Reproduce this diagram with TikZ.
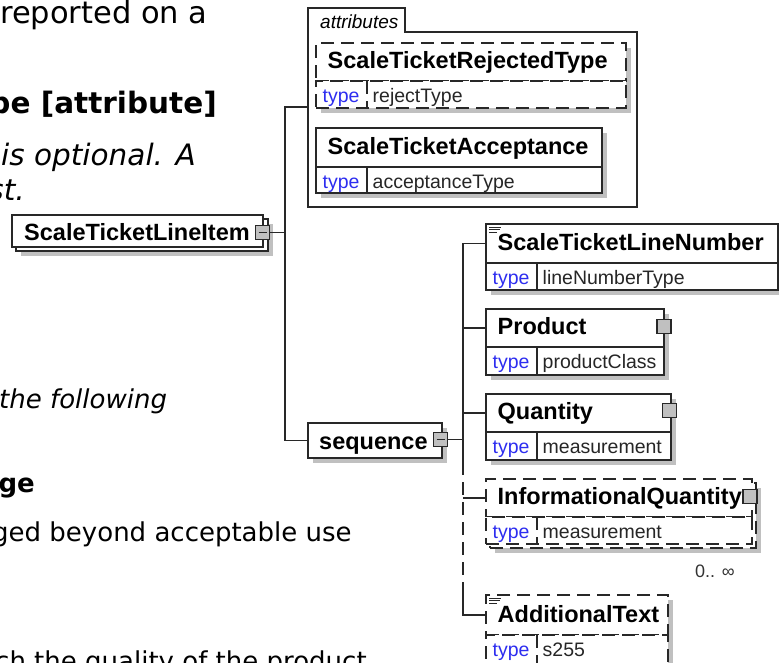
\documentclass[tikz,border=0pt]{standalone}
\usepackage{fontspec}
\newfontfamily\dv{DejaVu Sans}
\newfontfamily\ar{Liberation Sans}
\usetikzlibrary{calc}
\definecolor{shade}{RGB}{192,192,192}
\definecolor{frm}{RGB}{40,40,40}
\definecolor{typeblue}{RGB}{45,45,240}
\definecolor{expfill}{RGB}{192,192,192}
\newcommand\xelem[9]{%
  \node[frame,#9,anchor=north west,minimum width={#4pt-#2pt},minimum height={#5pt-#3pt}] (#1) at (#2,#3) {};
  \node[frame,#9,anchor=north west,minimum width={#4pt-#2pt},minimum height={#6pt-#5pt}] (#1t) at (#2,#5) {};
  \draw[conn,#9] (#2+51,#5) -- (#2+51,#6);
  \node[title,anchor=base west] (#1n) at (#2+11.5,#5-12.5) {#7};
  \node[typek,anchor=base west] (#1k) at (#2+6.5,#5+21) {type};
  \node[typev,anchor=base west] (#1v) at (#2+56.5,#5+21) {#8};
}
\begin{document}
\begin{tikzpicture}[x=1pt,y=-1pt,
  frame/.style={draw=frm,line width=1.5pt,fill=white,inner sep=0pt,outer sep=0pt},
  dashbox/.style={dash pattern=on 13pt off 7pt},
  conn/.style={draw=frm,line width=1.5pt},
  shadow/.style={fill=shade},
  title/.style={inner sep=0pt,text=black,font=\ar\bfseries\fontsize{23.5}{28}\selectfont},
  typek/.style={inner sep=0pt,text=typeblue,font=\ar\fontsize{19.5}{23}\selectfont},
  typev/.style={inner sep=0pt,text=black!85,font=\ar\fontsize{19.5}{23}\selectfont},
  bgtext/.style={inner sep=0pt,text=black},
  expander/.style={draw=frm,fill=expfill,line width=1.3pt,minimum size=14pt,inner sep=0pt,outer sep=0pt}]

\clip (0,0) rectangle (779,662);
\fill[white] (0,0) rectangle (779,662);

% background document text
\node[bgtext,font=\dv\fontsize{30.5}{36}\selectfont,anchor=base west] (t1) at (0,23) {reported on a};
\node[bgtext,font=\dv\bfseries\fontsize{29.5}{35}\selectfont,anchor=base east] (t2) at (217,113) {pe [attribute]};
\node[bgtext,font=\dv\itshape\fontsize{29.5}{35}\selectfont,anchor=base west] (t3) at (1,165) {is optional. A};
\node[bgtext,font=\dv\itshape\fontsize{29.5}{35}\selectfont,anchor=base east] (t4) at (25,200) {st.};
\node[bgtext,font=\dv\itshape\fontsize{26}{31}\selectfont,anchor=base west] (t5) at (-1,408) {the following};
\node[bgtext,font=\dv\bfseries\fontsize{26}{31}\selectfont,anchor=base east] (t6) at (35,492) {ge};
\node[bgtext,font=\dv\fontsize{26}{31}\selectfont,anchor=base west] (t7) at (-8,541) {ged beyond acceptable use};
\node[bgtext,font=\dv\fontsize{26}{31}\selectfont,anchor=base west] (t8) at (-5,670) {ch the quality of the product};

% attributes container
\draw[conn,fill=white] (308,207) -- (308,8) -- (405,8) -- (405,32) -- (637,32) -- (637,207) -- cycle;
\node[inner sep=0pt,font=\ar\itshape\fontsize{19}{23}\selectfont,anchor=base west] (attrl) at (320,28) {attributes};

\fill[shadow] (321,48) rectangle (631,113);
\xelem{rej}{316}{43}{626}{81}{108}{ScaleTicketRejectedType}{rejectType}{dashbox}
\fill[shadow] (321,133) rectangle (607,198);
\xelem{acc}{316}{128}{602}{167}{193}{ScaleTicketAcceptance}{acceptanceType}{}

% root element (stacked)
\fill[shadow] (21,224) rectangle (273,256);
\node[frame,anchor=north west,minimum width=252pt,minimum height=32pt] (rootb) at (16,219) {};
\node[frame,anchor=north west,minimum width=251pt,minimum height=32pt] (root) at (12,215) {};
\node[title,anchor=base west] (rootn) at (24,240) {ScaleTicketLineItem};
\node[expander] (rootx) at (262.5,232.5) {};
\draw[frm,line width=1.2pt] ($(rootx.west)+(3,0)$) -- ($(rootx.east)+(-3,0)$);

% sequence compositor
\fill[shadow] (313,428) rectangle (447,463);
\node[frame,anchor=north west,minimum width=134pt,minimum height=35pt] (seq) at (308,423) {};
\node[title,anchor=base west] (seqn) at (319,449) {sequence};
\node[expander] (seqx) at (440.5,439.5) {};
\draw[frm,line width=1.2pt] ($(seqx.west)+(3,0)$) -- ($(seqx.east)+(-3,0)$);

% first trunk
\coordinate (k1top) at (285,107);
\coordinate (attrin) at (308,107);
\draw[conn] (attrin) -- (k1top) -- (k1top |- seq.west) -- (seq.west);
\draw[conn] (rootx.east) -- (rootx.east -| k1top);

% children
\fill[shadow] (491,229) rectangle (783,295);
\xelem{lnum}{486}{224}{778}{263}{290}{ScaleTicketLineNumber}{lineNumberType}{}
\draw[frm,line width=1pt] (489,227) -- (501,227) (489,229.5) -- (500,229.5) (489,232) -- (497,232);

\fill[shadow] (491,314) rectangle (669,380);
\xelem{prod}{486}{309}{664}{347}{375}{Product}{productClass}{}
\node[expander] (prodx) at (664,326.5) {};

\fill[shadow] (491,399) rectangle (676,465);
\xelem{qty}{486}{394}{671}{432}{460}{Quantity}{measurement}{}
\node[expander] (qtyx) at (669.5,410.5) {};

\fill[shadow] (495,488) rectangle (761,553);
\node[frame,dashbox,anchor=north west,minimum width=266pt,minimum height=65pt] (infqb) at (490,483) {};
\xelem{infq}{486}{479}{752}{517}{544}{InformationalQuantity}{measurement}{dashbox}
\node[expander] (infqx) at (750,496.5) {};
\node[inner sep=0pt,font=\ar\fontsize{18}{22}\selectfont,text=black!80,anchor=base west] (occ) at (695,577) {0.. ∞};

\fill[shadow] (491,600) rectangle (673,685);
\xelem{add}{486}{595}{668}{635}{680}{AdditionalText}{s255}{dashbox}
\draw[frm,line width=1pt] (489,598) -- (501,598) (489,600.5) -- (500,600.5) (489,603) -- (497,603);

% second trunk
\coordinate (k2x) at (463,440);
\coordinate (k2s) at (463,462);
\coordinate (k2d) at (463,595);
\draw[conn] (seqx.east) -- (seqx.east -| k2x);
\draw[conn] (lnum.west) -- (lnum.west -| k2x) -- (k2s);
\draw[conn,dashbox] (k2s) -- (k2d);
\draw[conn] (k2d) -- (add.west -| k2x) -- (add.west);
\draw[conn] (prod.west -| k2x) -- (prod.west);
\draw[conn] (qty.west -| k2x) -- (qty.west);
\draw[conn] (infq.west -| k2x) -- (infq.west);
\end{tikzpicture}
\end{document}
